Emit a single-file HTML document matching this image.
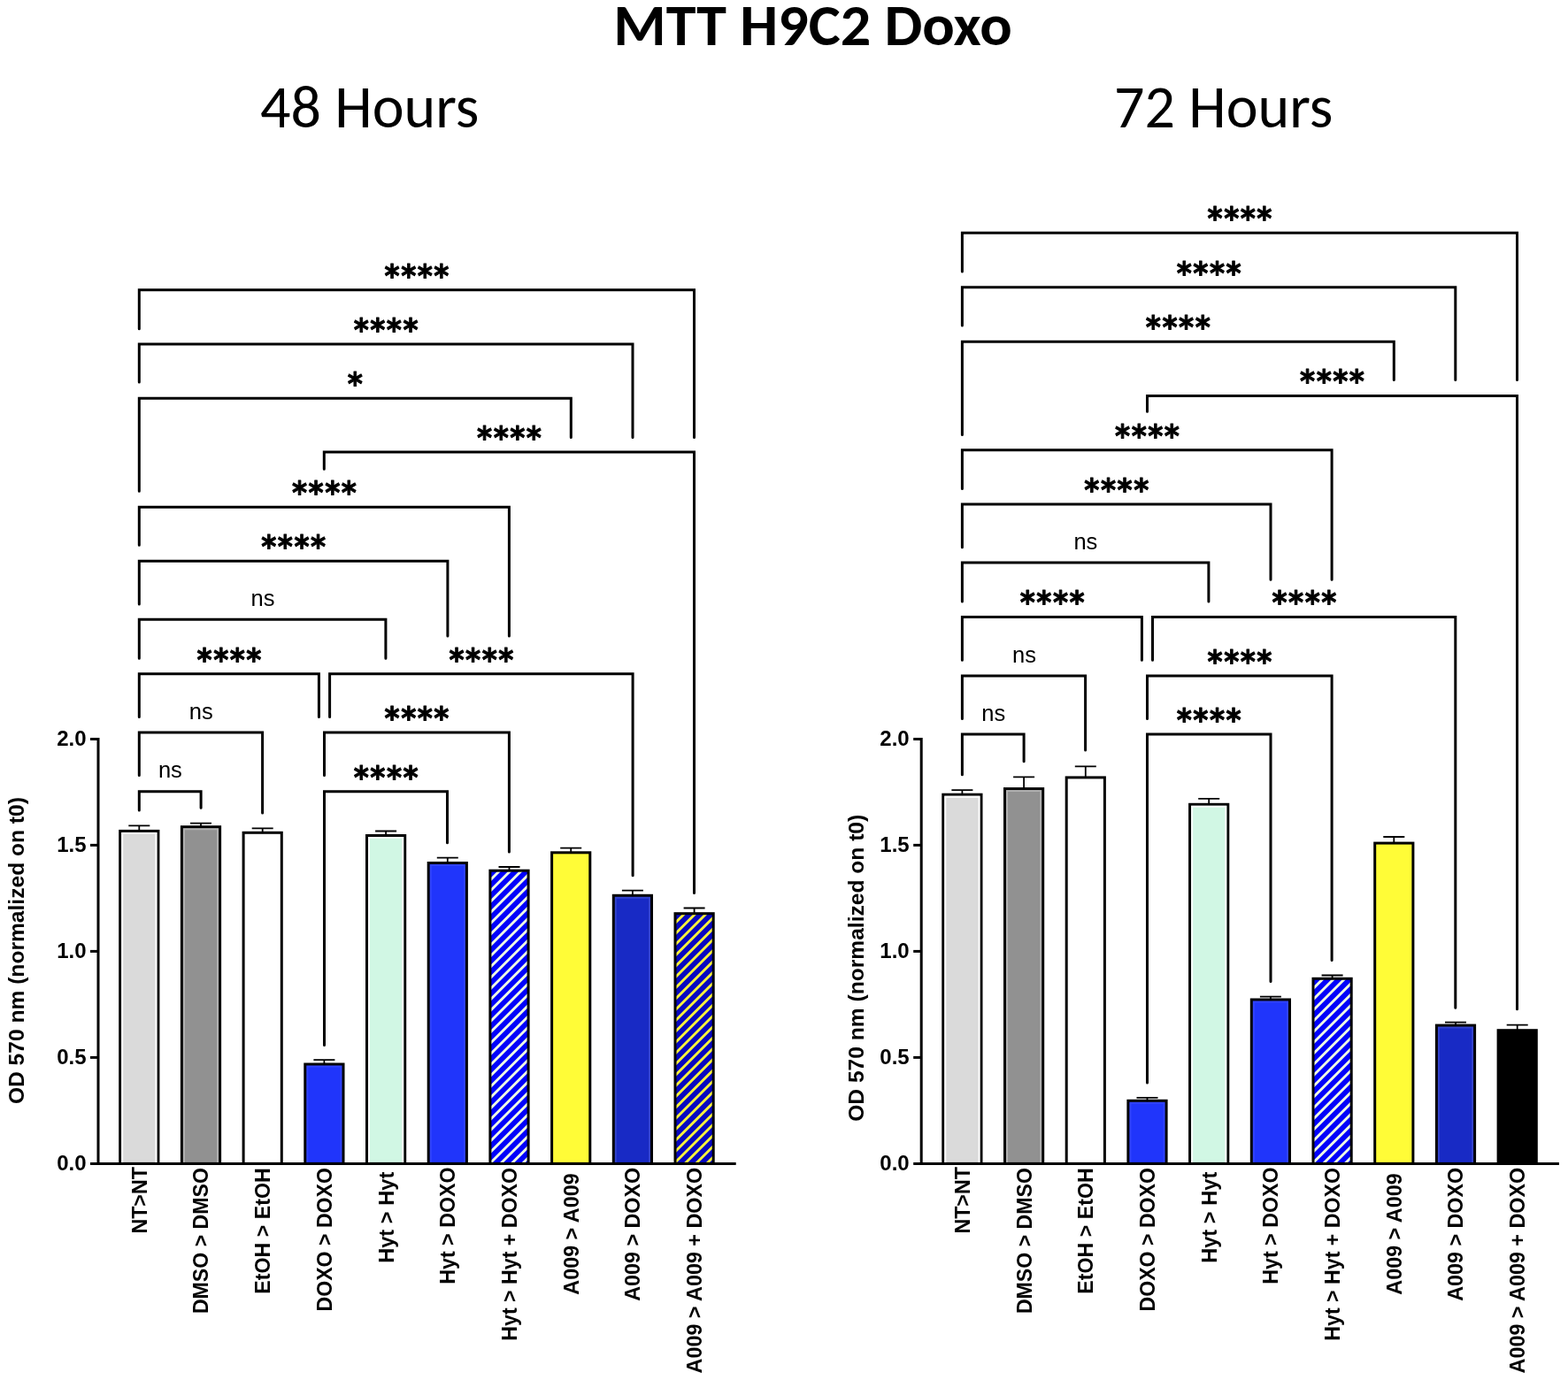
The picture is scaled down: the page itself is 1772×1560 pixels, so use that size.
<!DOCTYPE html>
<html><head><meta charset="utf-8"><title>MTT H9C2 Doxo</title>
<style>
html,body{margin:0;padding:0;background:#fff;}
body{width:1772px;height:1560px;overflow:hidden;}
svg{display:block;}
.tk{font-family:'Liberation Sans', Arial, Helvetica, sans-serif;font-weight:bold;font-size:24px;text-anchor:end;}
.xl{font-family:'Liberation Sans', Arial, Helvetica, sans-serif;font-weight:bold;font-size:24px;text-anchor:middle;}
.yt{font-family:'Liberation Sans', Arial, Helvetica, sans-serif;font-weight:bold;font-size:24px;text-anchor:middle;}
.ast{font-family:'DejaVu Sans',sans-serif;font-weight:bold;font-size:36.3px;text-anchor:middle;stroke:#000;stroke-width:1.0px;stroke-linejoin:round;}
.ns{font-family:'Liberation Sans', Arial, Helvetica, sans-serif;font-size:25.5px;text-anchor:middle;}
.br{fill:none;stroke:#000;stroke-width:3;stroke-linecap:round;stroke-linejoin:miter;}
.ttl{font-family:Carlito, Calibri, 'Liberation Sans', sans-serif;font-weight:bold;font-size:68px;font-size-adjust:0.4849;}
.sub{font-family:Carlito, Calibri, 'Liberation Sans', sans-serif;font-size:68px;font-size-adjust:0.4775;}
</style></head><body>
<svg width="1772" height="1560" viewBox="0 0 1772 1560">
<defs>
<pattern id="hW48" patternUnits="userSpaceOnUse" width="8.7" height="8.7" patternTransform="translate(8.95,0) rotate(45)"><rect width="8.7" height="8.7" fill="#0202fa"/><rect width="2.9" height="8.7" fill="#effce3"/></pattern>
<pattern id="hY48" patternUnits="userSpaceOnUse" width="8.7" height="8.7" patternTransform="translate(8.05,0) rotate(45)"><rect width="8.7" height="8.7" fill="#0808c0"/><rect width="2.9" height="8.7" fill="#f8f23c"/></pattern>
<pattern id="hW72" patternUnits="userSpaceOnUse" width="8.7" height="8.7" patternTransform="translate(3.45,0) rotate(45)"><rect width="8.7" height="8.7" fill="#0202fa"/><rect width="2.9" height="8.7" fill="#effce3"/></pattern>
</defs>
<rect width="1772" height="1560" fill="#fff"/>
<text transform="translate(693.3,51.0) scale(1,0.962)" class="ttl" textLength="450.5" lengthAdjust="spacingAndGlyphs">MTT H9C2 Doxo</text>
<text transform="translate(294,144.3) scale(1,0.965)" class="sub" textLength="247.4" lengthAdjust="spacingAndGlyphs">48 Hours</text>
<text transform="translate(1259,144.3) scale(1,0.965)" class="sub" textLength="247.4" lengthAdjust="spacingAndGlyphs">72 Hours</text>

<rect x="135.7" y="939.4" width="43.2" height="376.0" fill="#dadada" stroke="#000" stroke-width="3"/>
<path d="M138.2 1313.9V941.9H176.4V1313.9" fill="none" stroke="#fff" stroke-opacity="0.95" stroke-width="2"/>
<path d="M157.3 939.4V933.4M145.3 933.4H169.3" stroke="#000" stroke-width="1.8" fill="none"/>
<rect x="205.4" y="934.7" width="43.2" height="380.7" fill="#919191" stroke="#000" stroke-width="3"/>
<path d="M207.9 1313.9V937.2H246.1V1313.9" fill="none" stroke="#fff" stroke-opacity="0.3" stroke-width="2"/>
<path d="M227.0 934.7V930.7M215.0 930.7H239.0" stroke="#000" stroke-width="1.8" fill="none"/>
<rect x="275.1" y="941.3" width="43.2" height="374.1" fill="#ffffff" stroke="#000" stroke-width="3"/>
<path d="M296.7 941.3V936.3M284.7 936.3H308.7" stroke="#000" stroke-width="1.8" fill="none"/>
<rect x="344.8" y="1203.0" width="43.2" height="112.4" fill="#2035fb" stroke="#000" stroke-width="3"/>
<path d="M347.3 1313.9V1205.5H385.5V1313.9" fill="none" stroke="#fff" stroke-opacity="0.08" stroke-width="2"/>
<path d="M366.4 1203.0V1198.1M354.4 1198.1H378.4" stroke="#000" stroke-width="1.8" fill="none"/>
<rect x="414.5" y="944.5" width="43.2" height="370.9" fill="#d1f7e4" stroke="#000" stroke-width="3"/>
<path d="M417.0 1313.9V947.0H455.2V1313.9" fill="none" stroke="#fff" stroke-opacity="0.85" stroke-width="2"/>
<path d="M436.1 944.5V939.5M424.1 939.5H448.1" stroke="#000" stroke-width="1.8" fill="none"/>
<rect x="484.2" y="975.5" width="43.2" height="339.9" fill="#2035fb" stroke="#000" stroke-width="3"/>
<path d="M486.7 1313.9V978.0H524.9V1313.9" fill="none" stroke="#fff" stroke-opacity="0.08" stroke-width="2"/>
<path d="M505.8 975.5V969.7M493.8 969.7H517.8" stroke="#000" stroke-width="1.8" fill="none"/>
<rect x="553.9" y="984.2" width="43.2" height="331.2" fill="url(#hW48)" stroke="#000" stroke-width="3"/>
<path d="M575.5 984.2V980.0M563.5 980.0H587.5" stroke="#000" stroke-width="1.8" fill="none"/>
<rect x="623.6" y="963.8" width="43.2" height="351.6" fill="#fffc37" stroke="#000" stroke-width="3"/>
<path d="M645.2 963.8V958.7M633.2 958.7H657.2" stroke="#000" stroke-width="1.8" fill="none"/>
<rect x="693.3" y="1012.3" width="43.2" height="303.1" fill="#182ac5" stroke="#000" stroke-width="3"/>
<path d="M695.8 1313.9V1014.8H734.0V1313.9" fill="none" stroke="#fff" stroke-opacity="0.12" stroke-width="2"/>
<path d="M714.9 1012.3V1006.7M702.9 1006.7H726.9" stroke="#000" stroke-width="1.8" fill="none"/>
<rect x="763.0" y="1032.7" width="43.2" height="282.7" fill="url(#hY48)" stroke="#000" stroke-width="3"/>
<path d="M784.6 1032.7V1026.5M772.6 1026.5H796.6" stroke="#000" stroke-width="1.8" fill="none"/>
<path d="M102.0 835.4H111.0V1315.4" stroke="#000" stroke-width="3" fill="none"/>
<path d="M102.0 955.4H111.0" stroke="#000" stroke-width="3"/>
<path d="M102.0 1075.4H111.0" stroke="#000" stroke-width="3"/>
<path d="M102.0 1195.4H111.0" stroke="#000" stroke-width="3"/>
<path d="M102.0 1315.4H831.7" stroke="#000" stroke-width="3"/>
<text x="97.5" y="843.1" class="tk">2.0</text>
<text x="97.5" y="963.1" class="tk">1.5</text>
<text x="97.5" y="1083.1" class="tk">1.0</text>
<text x="97.5" y="1203.1" class="tk">0.5</text>
<text x="97.5" y="1323.1" class="tk">0.0</text>
<path d="M157.3 371.8V327.7H784.5V494.5" class="br"/>
<text transform="translate(471.0,323.5) scale(0.9,1)" x="-31.00 -10.33 10.33 31.00" y="0" class="ast">****</text>
<path d="M157.3 432.1V388.9H715.0V494.5" class="br"/>
<text transform="translate(436.1,384.7) scale(0.9,1)" x="-31.00 -10.33 10.33 31.00" y="0" class="ast">****</text>
<path d="M157.3 555.3V450.2H645.3V494.5" class="br"/>
<text transform="translate(401.2,446.0) scale(0.9,1)" x="0.00" y="0" class="ast">*</text>
<path d="M366.3 530.2V511.1H784.5V1009.5" class="br"/>
<text transform="translate(575.5,506.9) scale(0.9,1)" x="-31.00 -10.33 10.33 31.00" y="0" class="ast">****</text>
<path d="M157.3 616.2V573.2H575.4V719.1" class="br"/>
<text transform="translate(366.4,569.0) scale(0.9,1)" x="-31.00 -10.33 10.33 31.00" y="0" class="ast">****</text>
<path d="M157.3 682.9V634.2H505.9V719.1" class="br"/>
<text transform="translate(331.7,630.0) scale(0.9,1)" x="-31.00 -10.33 10.33 31.00" y="0" class="ast">****</text>
<path d="M157.3 744.3V700.2H435.9V744.3" class="br"/>
<text x="297.0" y="684.8" class="ns">ns</text>
<path d="M157.3 810.5V761.8H360.4V810.5" class="br"/>
<text transform="translate(259.0,757.6) scale(0.9,1)" x="-31.00 -10.33 10.33 31.00" y="0" class="ast">****</text>
<path d="M372.6 810.5V761.8H715.1V989.7" class="br"/>
<text transform="translate(543.9,757.6) scale(0.9,1)" x="-31.00 -10.33 10.33 31.00" y="0" class="ast">****</text>
<path d="M157.3 876.6V828.1H296.6V919.1" class="br"/>
<text x="227.2" y="812.7" class="ns">ns</text>
<path d="M366.5 876.6V828.1H575.4V963.0" class="br"/>
<text transform="translate(471.0,823.9) scale(0.9,1)" x="-31.00 -10.33 10.33 31.00" y="0" class="ast">****</text>
<path d="M157.3 916.1V894.7H227.1V913.2" class="br"/>
<text x="192.4" y="879.3" class="ns">ns</text>
<path d="M366.5 1181.5V894.7H505.5V952.8" class="br"/>
<text transform="translate(436.2,890.5) scale(0.9,1)" x="-31.00 -10.33 10.33 31.00" y="0" class="ast">****</text>
<text transform="translate(165.7,1356.9) rotate(-90)" class="xl" textLength="75.4" lengthAdjust="spacingAndGlyphs">NT&gt;NT</text>
<text transform="translate(235.4,1402.6) rotate(-90)" class="xl" textLength="165.0" lengthAdjust="spacingAndGlyphs">DMSO &gt; DMSO</text>
<text transform="translate(305.1,1391.4) rotate(-90)" class="xl" textLength="142.5" lengthAdjust="spacingAndGlyphs">EtOH &gt; EtOH</text>
<text transform="translate(374.8,1401.3) rotate(-90)" class="xl" textLength="162.4" lengthAdjust="spacingAndGlyphs">DOXO &gt; DOXO</text>
<text transform="translate(444.5,1376.3) rotate(-90)" class="xl" textLength="103.1" lengthAdjust="spacingAndGlyphs">Hyt &gt; Hyt</text>
<text transform="translate(514.2,1385.6) rotate(-90)" class="xl" textLength="132.4" lengthAdjust="spacingAndGlyphs">Hyt &gt; DOXO</text>
<text transform="translate(583.9,1417.8) rotate(-90)" class="xl" textLength="195.8" lengthAdjust="spacingAndGlyphs">Hyt &gt; Hyt + DOXO</text>
<text transform="translate(653.6,1395.0) rotate(-90)" class="xl" textLength="137.3" lengthAdjust="spacingAndGlyphs">A009 &gt; A009</text>
<text transform="translate(723.3,1395.3) rotate(-90)" class="xl" textLength="151.0" lengthAdjust="spacingAndGlyphs">A009 &gt; DOXO</text>
<text transform="translate(793.0,1436.1) rotate(-90)" class="xl" textLength="232.6" lengthAdjust="spacingAndGlyphs">A009 &gt; A009 + DOXO</text>
<text transform="translate(27.3,1074.6) rotate(-90)" class="yt" textLength="347.0" lengthAdjust="spacingAndGlyphs">OD 570 nm (normalized on t0)</text>
<rect x="1065.8" y="898.2" width="43.2" height="417.2" fill="#dadada" stroke="#000" stroke-width="3"/>
<path d="M1068.3 1313.9V900.7H1106.5V1313.9" fill="none" stroke="#fff" stroke-opacity="0.95" stroke-width="2"/>
<path d="M1087.4 898.2V893.1M1075.4 893.1H1099.4" stroke="#000" stroke-width="1.8" fill="none"/>
<rect x="1135.5" y="891.6" width="43.2" height="423.8" fill="#919191" stroke="#000" stroke-width="3"/>
<path d="M1138.0 1313.9V894.1H1176.2V1313.9" fill="none" stroke="#fff" stroke-opacity="0.3" stroke-width="2"/>
<path d="M1157.1 891.6V878.3M1145.1 878.3H1169.1" stroke="#000" stroke-width="1.8" fill="none"/>
<rect x="1205.2" y="878.9" width="43.2" height="436.5" fill="#ffffff" stroke="#000" stroke-width="3"/>
<path d="M1226.8 878.9V866.4M1214.8 866.4H1238.8" stroke="#000" stroke-width="1.8" fill="none"/>
<rect x="1274.9" y="1244.3" width="43.2" height="71.1" fill="#2035fb" stroke="#000" stroke-width="3"/>
<path d="M1277.4 1313.9V1246.8H1315.6V1313.9" fill="none" stroke="#fff" stroke-opacity="0.08" stroke-width="2"/>
<path d="M1296.5 1244.3V1240.8M1284.5 1240.8H1308.5" stroke="#000" stroke-width="1.8" fill="none"/>
<rect x="1344.6" y="909.3" width="43.2" height="406.1" fill="#d1f7e4" stroke="#000" stroke-width="3"/>
<path d="M1347.1 1313.9V911.8H1385.3V1313.9" fill="none" stroke="#fff" stroke-opacity="0.85" stroke-width="2"/>
<path d="M1366.2 909.3V902.8M1354.2 902.8H1378.2" stroke="#000" stroke-width="1.8" fill="none"/>
<rect x="1414.3" y="1130.0" width="43.2" height="185.4" fill="#2035fb" stroke="#000" stroke-width="3"/>
<path d="M1416.8 1313.9V1132.5H1455.0V1313.9" fill="none" stroke="#fff" stroke-opacity="0.08" stroke-width="2"/>
<path d="M1435.9 1130.0V1126.7M1423.9 1126.7H1447.9" stroke="#000" stroke-width="1.8" fill="none"/>
<rect x="1484.0" y="1106.3" width="43.2" height="209.1" fill="url(#hW72)" stroke="#000" stroke-width="3"/>
<path d="M1505.6 1106.3V1102.5M1493.6 1102.5H1517.6" stroke="#000" stroke-width="1.8" fill="none"/>
<rect x="1553.7" y="953.1" width="43.2" height="362.3" fill="#fffc37" stroke="#000" stroke-width="3"/>
<path d="M1575.3 953.1V946.0M1563.3 946.0H1587.3" stroke="#000" stroke-width="1.8" fill="none"/>
<rect x="1623.4" y="1159.1" width="43.2" height="156.3" fill="#182ac5" stroke="#000" stroke-width="3"/>
<path d="M1625.9 1313.9V1161.6H1664.1V1313.9" fill="none" stroke="#fff" stroke-opacity="0.12" stroke-width="2"/>
<path d="M1645.0 1159.1V1155.6M1633.0 1155.6H1657.0" stroke="#000" stroke-width="1.8" fill="none"/>
<rect x="1693.1" y="1164.7" width="43.2" height="150.7" fill="#000000" stroke="#000" stroke-width="3"/>
<path d="M1714.7 1164.7V1158.6M1702.7 1158.6H1726.7" stroke="#000" stroke-width="1.8" fill="none"/>
<path d="M1032.2 835.4H1041.2V1315.4" stroke="#000" stroke-width="3" fill="none"/>
<path d="M1032.2 955.4H1041.2" stroke="#000" stroke-width="3"/>
<path d="M1032.2 1075.4H1041.2" stroke="#000" stroke-width="3"/>
<path d="M1032.2 1195.4H1041.2" stroke="#000" stroke-width="3"/>
<path d="M1032.2 1315.4H1761.9" stroke="#000" stroke-width="3"/>
<text x="1027.7" y="843.1" class="tk">2.0</text>
<text x="1027.7" y="963.1" class="tk">1.5</text>
<text x="1027.7" y="1083.1" class="tk">1.0</text>
<text x="1027.7" y="1203.1" class="tk">0.5</text>
<text x="1027.7" y="1323.1" class="tk">0.0</text>
<path d="M1087.4 306.9V263.3H1714.5V429.4" class="br"/>
<text transform="translate(1401.0,259.1) scale(0.9,1)" x="-31.00 -10.33 10.33 31.00" y="0" class="ast">****</text>
<path d="M1087.4 368.1V324.7H1644.8V429.4" class="br"/>
<text transform="translate(1366.2,320.5) scale(0.9,1)" x="-31.00 -10.33 10.33 31.00" y="0" class="ast">****</text>
<path d="M1087.4 491.4V386.2H1575.3V429.4" class="br"/>
<text transform="translate(1331.3,382.0) scale(0.9,1)" x="-31.00 -10.33 10.33 31.00" y="0" class="ast">****</text>
<path d="M1296.5 465.3V447.6H1714.5V1140.7" class="br"/>
<text transform="translate(1505.5,443.4) scale(0.9,1)" x="-31.00 -10.33 10.33 31.00" y="0" class="ast">****</text>
<path d="M1087.4 552.6V508.7H1505.1V655.3" class="br"/>
<text transform="translate(1296.5,504.5) scale(0.9,1)" x="-31.00 -10.33 10.33 31.00" y="0" class="ast">****</text>
<path d="M1087.4 618.7V569.9H1436.0V655.3" class="br"/>
<text transform="translate(1261.8,565.7) scale(0.9,1)" x="-31.00 -10.33 10.33 31.00" y="0" class="ast">****</text>
<path d="M1087.4 680.0V636.0H1365.9V680.0" class="br"/>
<text x="1226.9" y="620.6" class="ns">ns</text>
<path d="M1087.4 746.3V697.5H1290.4V746.3" class="br"/>
<text transform="translate(1189.2,693.3) scale(0.9,1)" x="-31.00 -10.33 10.33 31.00" y="0" class="ast">****</text>
<path d="M1302.5 746.3V697.5H1644.8V1139.3" class="br"/>
<text transform="translate(1473.9,693.3) scale(0.9,1)" x="-31.00 -10.33 10.33 31.00" y="0" class="ast">****</text>
<path d="M1087.4 812.5V764.0H1226.6V848.0" class="br"/>
<text x="1157.5" y="748.6" class="ns">ns</text>
<path d="M1296.5 812.5V764.0H1505.1V1085.6" class="br"/>
<text transform="translate(1401.0,759.8) scale(0.9,1)" x="-31.00 -10.33 10.33 31.00" y="0" class="ast">****</text>
<path d="M1087.4 875.7V830.0H1157.1V860.8" class="br"/>
<text x="1122.7" y="814.6" class="ns">ns</text>
<path d="M1296.5 1223.9V830.0H1436.0V1109.6" class="br"/>
<text transform="translate(1366.2,825.8) scale(0.9,1)" x="-31.00 -10.33 10.33 31.00" y="0" class="ast">****</text>
<text transform="translate(1095.8,1356.9) rotate(-90)" class="xl" textLength="75.4" lengthAdjust="spacingAndGlyphs">NT&gt;NT</text>
<text transform="translate(1165.5,1402.6) rotate(-90)" class="xl" textLength="165.0" lengthAdjust="spacingAndGlyphs">DMSO &gt; DMSO</text>
<text transform="translate(1235.2,1391.4) rotate(-90)" class="xl" textLength="142.5" lengthAdjust="spacingAndGlyphs">EtOH &gt; EtOH</text>
<text transform="translate(1304.9,1401.3) rotate(-90)" class="xl" textLength="162.4" lengthAdjust="spacingAndGlyphs">DOXO &gt; DOXO</text>
<text transform="translate(1374.6,1376.3) rotate(-90)" class="xl" textLength="103.1" lengthAdjust="spacingAndGlyphs">Hyt &gt; Hyt</text>
<text transform="translate(1444.3,1385.6) rotate(-90)" class="xl" textLength="132.4" lengthAdjust="spacingAndGlyphs">Hyt &gt; DOXO</text>
<text transform="translate(1514.0,1417.8) rotate(-90)" class="xl" textLength="195.8" lengthAdjust="spacingAndGlyphs">Hyt &gt; Hyt + DOXO</text>
<text transform="translate(1583.7,1395.0) rotate(-90)" class="xl" textLength="137.3" lengthAdjust="spacingAndGlyphs">A009 &gt; A009</text>
<text transform="translate(1653.4,1395.3) rotate(-90)" class="xl" textLength="151.0" lengthAdjust="spacingAndGlyphs">A009 &gt; DOXO</text>
<text transform="translate(1723.1,1436.1) rotate(-90)" class="xl" textLength="232.6" lengthAdjust="spacingAndGlyphs">A009 &gt; A009 + DOXO</text>
<text transform="translate(976.1,1094.3) rotate(-90)" class="yt" textLength="347.0" lengthAdjust="spacingAndGlyphs">OD 570 nm (normalized on t0)</text>
</svg></body></html>
